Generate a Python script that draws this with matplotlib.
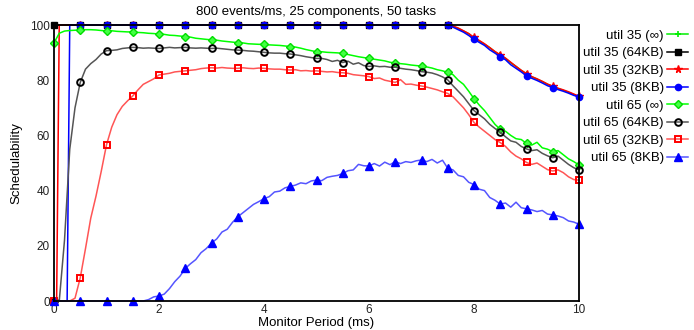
import numpy as np
import matplotlib
matplotlib.use("Agg")
import matplotlib.pyplot as plt

plt.rcParams['font.family'] = ['Liberation Sans', 'DejaVu Sans']

title = "800 events/ms, 25 components, 50 tasks"
xlabel = "Monitor Period (ms)"
ylabel = "Schedulability"
labels = ["util 35 (\u221e)", "util 35 (64KB)", "util 35 (32KB)", "util 35 (8KB)",
          "util 65 (\u221e)", "util 65 (64KB)", "util 65 (32KB)", "util 65 (8KB)"]
xticks = [0, 2, 4, 6, 8, 10]
yticks = [0, 20, 40, 60, 80, 100]

# x grid for util 65 series (0.1 ms steps)
x65 = np.round(np.arange(0, 101) * 0.1, 1)

u65_inf = [93.5, 97.0, 97.8, 98.0, 98.1, 98.2, 98.3, 98.3, 98.2, 98.0,
           97.8, 97.9, 97.7, 97.6, 97.5, 97.5, 97.3, 97.2, 97.0, 96.9,
           96.7, 96.6, 96.3, 96.2, 96.0, 95.8, 95.6, 95.2, 95.0, 94.8,
           94.6, 94.5, 94.2, 94.0, 93.8, 93.6, 93.5, 93.2, 93.1, 93.0,
           93.0, 92.8, 92.7, 92.6, 92.4, 92.2, 92.0, 91.6, 91.1, 90.7,
           90.3, 90.3, 90.1, 90.0, 89.9, 89.7, 89.3, 88.9, 88.5, 88.2,
           87.9, 87.6, 87.3, 87.0, 86.5, 86.2, 86.0, 85.8, 85.5, 85.3,
           85.1, 84.8, 84.4, 83.8, 83.4, 82.8, 82.0, 80.0, 78.5, 76.0,
           73.3, 71.0, 69.0, 66.5, 64.0, 62.2, 61.5, 60.0, 58.8, 58.5,
           57.1, 56.5, 57.5, 55.5, 55.0, 54.1, 54.5, 53.0, 51.5, 50.5,
           49.3]

u65_64 = [0.0, 0.0, 22.0, 55.0, 70.0, 79.2, 84.0, 86.0, 87.5, 89.5,
          90.7, 90.8, 91.0, 91.5, 91.7, 91.9, 91.8, 91.6, 91.7, 91.6,
          91.5, 91.7, 91.9, 91.7, 91.8, 91.9, 91.7, 91.6, 91.7, 91.6,
          91.5, 91.6, 91.4, 91.2, 91.0, 90.9, 90.8, 90.6, 90.5, 90.3,
          90.1, 89.9, 89.8, 89.8, 89.6, 89.5, 89.2, 88.9, 88.5, 88.2,
          87.9, 87.9, 87.5, 86.8, 87.2, 86.4, 86.9, 85.8, 86.3, 85.3,
          85.0, 85.2, 84.9, 85.0, 84.7, 84.7, 84.3, 84.0, 83.8, 83.5,
          83.1, 82.9, 82.6, 82.0, 81.2, 80.1, 78.0, 76.0, 74.0, 71.5,
          69.0, 67.5, 66.0, 64.0, 62.5, 61.1, 59.5, 58.0, 57.5, 56.0,
          55.1, 54.5, 54.8, 53.5, 52.6, 51.9, 52.5, 51.0, 49.5, 48.3,
          47.5]

u65_32 = [0.0, 0.0, 0.0, 0.0, 1.0, 8.4, 19.0, 30.0, 38.0, 47.0,
          56.6, 63.0, 67.5, 70.5, 72.5, 74.3, 76.5, 78.5, 79.5, 80.5,
          81.9, 82.2, 82.5, 83.0, 83.2, 83.4, 83.6, 83.8, 84.2, 84.4,
          84.5, 84.4, 84.6, 84.4, 84.3, 84.3, 84.5, 84.3, 84.2, 84.4,
          84.3, 84.1, 84.0, 84.0, 83.8, 83.7, 83.8, 83.4, 83.5, 83.3,
          83.4, 83.2, 83.0, 83.1, 82.8, 82.7, 82.5, 82.0, 81.8, 81.6,
          81.3, 80.6, 80.8, 80.0, 79.6, 79.2, 80.2, 78.5, 78.6, 78.2,
          77.9, 77.5, 77.0, 76.5, 75.8, 75.2, 74.0, 72.0, 70.0, 67.5,
          64.7, 63.0, 61.5, 60.0, 58.5, 57.4, 56.0, 54.0, 52.5, 51.5,
          50.2, 49.5, 50.0, 48.8, 47.6, 47.1, 47.5, 46.5, 45.0, 44.0,
          43.8]

u65_8 = [0.0, 0.0, 0.0, 0.0, 0.0, 0.0, 0.0, 0.0, 0.0, 0.0,
         0.0, 0.0, 0.0, 0.0, 0.0, 0.0, 0.0, 0.0, 0.5, 1.5,
         1.8, 2.5, 4.5, 7.0, 9.0, 11.8, 13.5, 15.0, 17.5, 19.0,
         21.0, 22.5, 25.0, 26.0, 28.5, 30.5, 32.0, 33.5, 35.0, 36.0,
         37.1, 37.8, 39.5, 39.8, 41.0, 41.5, 42.0, 42.8, 42.5, 43.5,
         43.8, 43.6, 44.8, 45.2, 45.5, 46.2, 47.2, 47.5, 49.5, 49.0,
         48.9, 49.8, 48.9, 50.3, 49.4, 50.5, 49.8, 50.5, 50.2, 50.8,
         51.1, 50.5, 51.3, 50.0, 51.0, 48.1, 47.5, 45.5, 45.0, 43.0,
         42.2, 40.5, 40.0, 37.5, 36.5, 35.1, 35.5, 34.0, 35.8, 33.8,
         33.4, 33.0, 32.4, 32.8, 31.5, 31.2, 30.8, 30.2, 29.0, 28.6,
         27.8]

# x grid for util 35 series
x35 = [0.0, 0.05, 0.1, 0.25, 0.3, 0.5, 1.0, 1.5, 2.0, 2.5, 3.0, 3.5, 4.0, 4.5,
       5.0, 5.5, 6.0, 6.5, 7.0, 7.5, 7.6, 7.7, 7.8, 7.9, 8.0, 8.1, 8.2, 8.3,
       8.4, 8.5, 8.6, 8.7, 8.8, 8.9, 9.0, 9.1, 9.2, 9.3, 9.4, 9.5, 9.6, 9.7,
       9.8, 9.9, 10.0]

u35_inf = [100, 100, 100, 100, 100, 100, 100, 100, 100, 100, 100, 100, 100, 100,
           100, 100, 100, 100, 100, 100, 99.5, 98.7, 97.8, 96.8, 95.3, 94.2, 93.0, 91.8,
           90.2, 89.0, 87.9, 86.3, 85.0, 83.5, 82.2, 81.2, 80.4, 79.5, 78.5, 77.7, 77.0, 76.3,
           75.6, 74.8, 74.0]
u35_64 = [100, 100, 100, 100, 100, 100, 100, 100, 100, 100, 100, 100, 100, 100,
          100, 100, 100, 100, 100, 100, None, None, None, None, None, None, None, None,
          None, None, None, None, None, None, None, None, None, None, None, None, None, None,
          None, None, None]
u35_32 = [0, 0, 100, 100, 100, 100, 100, 100, 100, 100, 100, 100, 100, 100,
          100, 100, 100, 100, 100, 100, 99.6, 98.9, 97.9, 96.9, 95.5, 94.4, 93.2, 91.8,
          90.4, 89.2, 88.0, 86.5, 85.0, 83.6, 82.4, 81.3, 80.5, 79.6, 78.6, 77.8, 77.1, 76.5,
          75.8, 75.0, 74.1]
u35_8 = [0, 0, 0, 0, 100, 100, 100, 100, 100, 100, 100, 100, 100, 100,
         100, 100, 100, 100, 100, 100, 99.2, 98.3, 97.4, 96.2, 94.8, 93.7, 92.6, 91.0,
         89.8, 88.5, 87.4, 85.6, 84.3, 83.0, 81.6, 80.7, 79.9, 79.0, 78.0, 77.3, 76.6, 76.0,
         75.3, 74.5, 73.9]


def arr(v):
    return np.array([np.nan if a is None else a for a in v], dtype=float)


def half_idx(x):
    x = np.asarray(x, dtype=float)
    r = np.mod(x * 2, 1.0)
    return list(np.where(np.isclose(r, 0) | np.isclose(r, 1.0))[0])


fig = plt.figure(figsize=(6.94, 3.30), dpi=100)
L, R, T, B = 54, 579, 25, 301
ax = fig.add_axes([L / 694, 1 - B / 330, (R - L) / 694, (B - T) / 330])

lw = 1.1
styles = [
    (x35, u35_inf, dict(color='#00ee00', marker='+', ms=5, mew=1.2)),
    (x35, u35_64, dict(color='black', marker='s', ms=4.5)),
    (x35, u35_32, dict(color='#ff0000', marker='*', ms=5.5)),
    (x35, u35_8, dict(color='#0000ff', marker='o', ms=4.5)),
    (x65, u65_inf, dict(color='#00ff00', marker='D', ms=3.8, mfc='#44ff44', mec='#00dd00')),
    (x65, u65_64, dict(color='#555555', marker='o', ms=4.8, mfc='none', mec='black', mew=1.4)),
    (x65, u65_32, dict(color='#ff5555', marker='s', ms=4.6, mfc='none', mec='#ff0000', mew=1.4)),
    (x65, u65_8, dict(color='#5555ff', marker='^', ms=5.2, mfc='#0000ff', mec='#0000ff')),
]

handles = []
for (xs, ys, st), lab in zip(styles, labels):
    h, = ax.plot(xs, arr(ys), lw=lw, markevery=half_idx(xs), clip_on=False,
                 label=lab, **st)
    handles.append(h)

ax.set_xlim(0, 10)
ax.set_ylim(0, 100)
ax.set_xticks(xticks)
ax.set_yticks(yticks)
ax.tick_params(length=0, labelsize=8.5, colors='#222222')
ax.tick_params(axis='x', pad=2.5)
ax.tick_params(axis='y', pad=3)
for s in ax.spines.values():
    s.set_linewidth(1.3)
    s.set_color('black')

fig.text((L + R) / 2 / 694, 1 - 12 / 330, title, fontsize=9.5, ha='center', va='center')
ax.set_xlabel(xlabel, fontsize=9.5)
ax.xaxis.label.set_va('center')
ax.xaxis.set_label_coords(0.5, -22 / (B - T))
ax.set_ylabel(ylabel, fontsize=9.5)
ax.yaxis.label.set_va('center')
ax.yaxis.set_label_coords(-38 / (R - L), 0.5)

leg = fig.legend(handles=handles, loc='upper right', markerfirst=False,
                 bbox_to_anchor=(695 / 694, 1 - 23 / 330), bbox_transform=fig.transFigure,
                 frameon=False, fontsize=9.5, borderpad=0, labelspacing=0.4,
                 handlelength=1.6, handletextpad=0.27, numpoints=1)

fig.savefig("out.png", dpi=100)
